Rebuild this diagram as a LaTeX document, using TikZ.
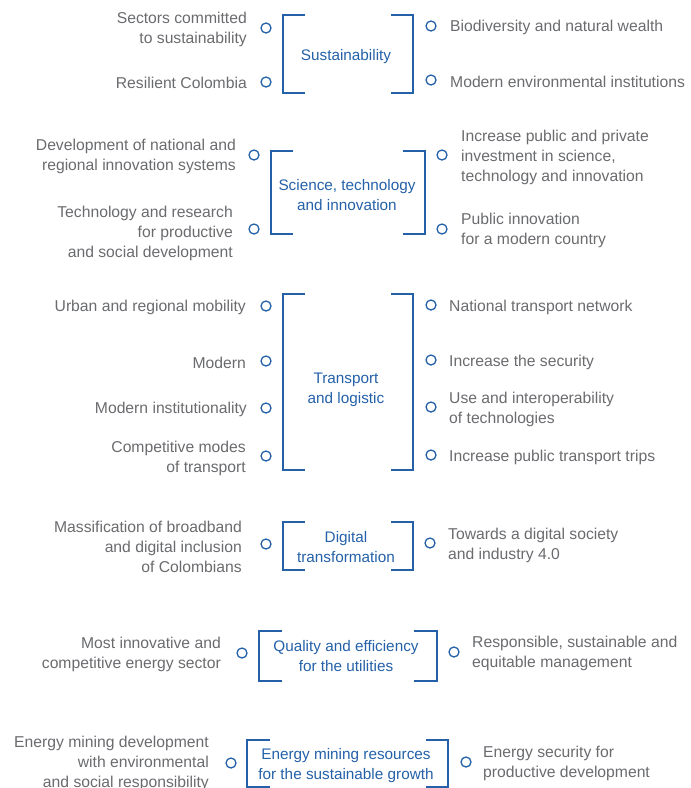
\documentclass[tikz,border=0pt]{standalone}
\usepackage{fontspec}
\setmainfont{Liberation Sans}
\usepackage{tikz}
\definecolor{dnpblue}{HTML}{2461A8}
\definecolor{dnpgray}{HTML}{6A6B6E}
\tikzstyle{dot}=[circle,draw=dnpblue,line width=1.3pt,minimum size=10pt,inner sep=0pt]
\tikzstyle{bracket}=[draw=dnpblue,line width=2.6pt]
\tikzstyle{pillar}=[text=dnpblue,align=center,inner sep=0pt,yshift=-2pt,font=\fontsize{15.3}{20}\selectfont]
\tikzstyle{ltext}=[text=dnpgray,align=right,anchor=east,inner sep=0pt,yshift=-2pt,font=\fontsize{15.7}{20}\selectfont]
\tikzstyle{rtext}=[text=dnpgray,align=left,anchor=west,inner sep=0pt,yshift=-2pt,font=\fontsize{15.7}{20}\selectfont]

\begin{document}
\begin{tikzpicture}[x=1pt,y=-1pt]
        \useasboundingbox (0,0) rectangle (691,788);
        % Sustainability
        \node[pillar] (sust) at (346,55) {Sustainability};
        \draw[bracket] (305,15) -| (283,93) -- (305,93);
        \draw[bracket] (391,15) -| (413,93) -- (391,93);
        \node[dot] (s1) at (266,28) {};
        \node[dot] (s2) at (266,82) {};
        \node[dot] (s3) at (431,26) {};
        \node[dot] (s4) at (431,80) {};
        \node[ltext] (ts1) at (247,27) {Sectors committed\\to sustainability};
        \node[ltext] (ts2) at (247,81) {Resilient Colombia};
        \node[rtext] (ts3) at (450,25) {Biodiversity and natural wealth};
        \node[rtext] (ts4) at (450,80) {Modern environmental institutions};
        % Science, technology and innovation
        \node[pillar] (scie) at (347,193) {Science, technology\\and innovation};
        \draw[bracket] (293,151) -| (271,234) -- (293,234);
        \draw[bracket] (403,151) -| (425,234) -- (403,234);
        \node[dot] (c1) at (254,155) {};
        \node[dot] (c2) at (254,229) {};
        \node[dot] (c3) at (442,155) {};
        \node[dot] (c4) at (442,229) {};
        \node[ltext] (tc1) at (236,154) {Development of national and\\regional innovation systems};
        \node[ltext] (tc2) at (233,231) {Technology and research\\for productive\\and social development};
        \node[rtext] (tc3) at (461,155) {Increase public and private\\investment in science,\\technology and innovation};
        \node[rtext] (tc4) at (461,228) {Public innovation\\for a modern country};
        % Transport and logistic
        \node[pillar] (tran) at (346,388) {Transport\\and logistic};
        \draw[bracket] (305,294) -| (283,470) -- (305,470);
        \draw[bracket] (391,294) -| (413,470) -- (391,470);
        \node[dot] (r1) at (266,306) {};
        \node[dot] (r2) at (266,361) {};
        \node[dot] (r3) at (266,408) {};
        \node[dot] (r4) at (266,456) {};
        \node[dot] (r5) at (431,305) {};
        \node[dot] (r6) at (431,360) {};
        \node[dot] (r7) at (431,407) {};
        \node[dot] (r8) at (431,455) {};
        \node[ltext] (tr1) at (246,305) {Urban and regional mobility};
        \node[ltext] (tr2) at (246,361) {Modern};
        \node[ltext] (tr3) at (247,407) {Modern institutionality};
        \node[ltext] (tr4) at (246,456) {Competitive modes\\of transport};
        \node[rtext] (tr5) at (449,305) {National transport network};
        \node[rtext] (tr6) at (449,360) {Increase the security};
        \node[rtext] (tr7) at (449,407) {Use and interoperability\\of technologies};
        \node[rtext] (tr8) at (449,455) {Increase public transport trips};
        % Digital transformation
        \node[pillar] (digi) at (346,545) {Digital\\transformation};
        \draw[bracket] (305,522) -| (283,570) -- (305,570);
        \draw[bracket] (391,522) -| (413,570) -- (391,570);
        \node[dot] (d1) at (266,544) {};
        \node[dot] (d2) at (430,543) {};
        \node[ltext] (td1) at (242,545) {Massification of broadband\\and digital inclusion\\of Colombians};
        \node[rtext] (td2) at (448,543) {Towards a digital society\\and industry 4.0};
        % Quality and efficiency
        \node[pillar] (qual) at (346,654) {Quality and efficiency\\for the utilities};
        \draw[bracket] (282,631) -| (259,681) -- (282,681);
        \draw[bracket] (414,631) -| (437,681) -- (414,681);
        \node[dot] (q1) at (242,653) {};
        \node[dot] (q2) at (454,652) {};
        \node[ltext] (tq1) at (221,652) {Most innovative and\\competitive energy sector};
        \node[rtext] (tq2) at (472,651) {Responsible, sustainable and\\equitable management};
        % Energy mining resources
        \node[pillar] (ener) at (346,764) {Energy mining resources\\for the sustainable growth};
        \draw[bracket] (270,740) -| (247,787) -- (270,787);
        \draw[bracket] (426,740) -| (448,787) -- (426,787);
        \node[dot] (e1) at (231,763) {};
        \node[dot] (e2) at (466,762) {};
        \node[ltext] (te1) at (209,761) {Energy mining development\\with environmental\\and social responsibility};
        \node[rtext] (te2) at (483,761) {Energy security for\\productive development};
      \end{tikzpicture}
\end{document}
